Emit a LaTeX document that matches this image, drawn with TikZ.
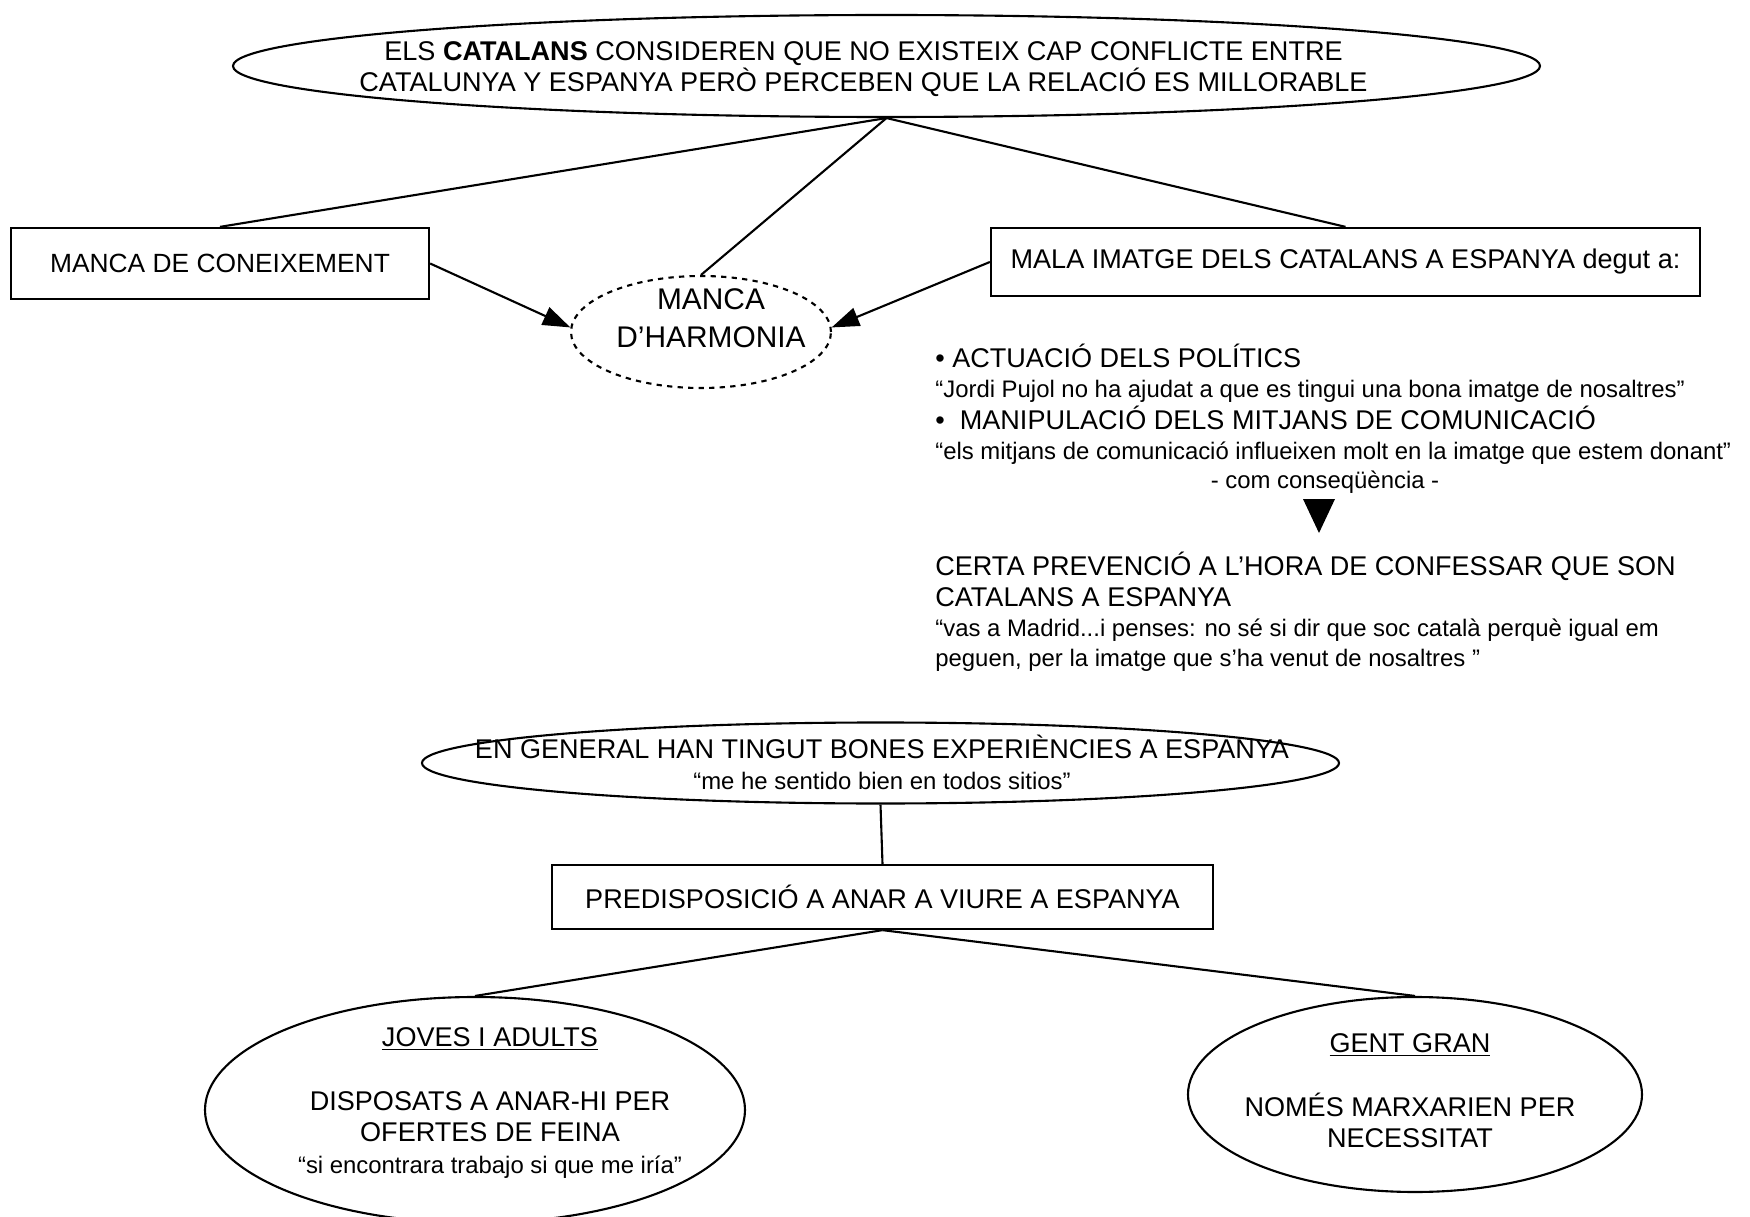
\documentclass[tikz,border=0pt]{standalone}
\usepackage{fontspec}
\setmainfont{Liberation Sans}
\usetikzlibrary{shapes.geometric,arrows.meta}

\tikzset{
  txt/.style={font=\fontsize{15.4}{17.8}\selectfont},
  qtxt/.style={font=\fontsize{13.6}{16}\selectfont},
  box/.style={draw, line width=1.3pt, inner sep=0pt, txt},
  oval/.style={draw, ellipse, line width=1.2pt, inner sep=0pt},
  ovaltext/.style={inner sep=0pt, align=center, txt},
  link/.style={line width=1.2pt},
  pointer/.style={line width=1.2pt, -{Triangle[length=0.55cm, width=0.38cm]}},
  textline/.style={anchor=base west, inner sep=0pt},
}
\newcommand{\qfont}{\fontsize{13.6}{16}\selectfont}

\begin{document}
\begin{tikzpicture}
        \useasboundingbox (0, 0) rectangle (35, -24.34);
        % top part
        \node [oval, minimum width=26.14cm, minimum height=2.04cm] (catalans) at (17.73, -1.32) {};
        \node [ovaltext] (catalanstext) at (17.27, -1.38)
            {ELS \textbf{CATALANS} CONSIDEREN QUE NO EXISTEIX CAP CONFLICTE ENTRE\\CATALUNYA Y ESPANYA PERÒ PERCEBEN QUE LA RELACIÓ ES MILLORABLE};
        \node [box, minimum width=8.36cm, minimum height=1.42cm, font=\fontsize{15}{18}\selectfont] (coneix) at (4.4, -5.27) {MANCA DE CONEIXEMENT};
        \node [oval, dashed, minimum width=5.2cm, minimum height=2.24cm] (harmonia) at (14.02, -6.64) {};
        \node [ovaltext, font=\fontsize{17}{21.6}\selectfont] (harmoniatext) at (14.22, -6.36) {MANCA\\D’HARMONIA};
        \node [box, minimum width=14.18cm, minimum height=1.36cm] (imatge) at (26.91, -5.24) {MALA IMATGE DELS CATALANS A ESPANYA degut a:};
        \draw [link] (catalans.south) -- (coneix.north);
        \draw [link] (catalans.south) -- (harmonia.north);
        \draw [link] (catalans.south) -- (imatge.north);
        \draw [pointer] (coneix.east) -- (harmonia.178);
        \draw [pointer] (imatge.west) -- (harmonia.2);
        % causes
        \node [textline, txt] (politics) at (18.7, -7.35) {• ACTUACIÓ DELS POLÍTICS};
        \node [textline, qtxt] (pujol) at (18.7, -7.94) {“Jordi Pujol no ha ajudat a que es tingui una bona imatge de nosaltres”};
        \node [textline, txt] (mitjans) at (18.7, -8.59) {•\ \ MANIPULACIÓ DELS MITJANS DE COMUNICACIÓ};
        \node [textline, qtxt] (influeixen) at (18.7, -9.18) {“els mitjans de comunicació influeixen molt en la imatge que estem donant”};
        \node [qtxt, anchor=base, inner sep=0pt] (conseq) at (26.5, -9.76) {- com conseqüència -};
        \fill (26.06, -9.98) -- (26.70, -9.98) -- (26.38, -10.66) -- cycle;
        \node [textline, txt] (prevencio) at (18.7, -11.51) {CERTA PREVENCIÓ A L’HORA DE CONFESSAR QUE SON};
        \node [textline, txt] (espanya) at (18.7, -12.13) {CATALANS A ESPANYA};
        \node [textline, qtxt] (madrid) at (18.7, -12.72) {“vas a Madrid...i penses: no sé si dir que soc català perquè igual em};
        \node [textline, qtxt] (peguen) at (18.7, -13.32) {peguen, per la imatge que s’ha venut de nosaltres ”};
        % bottom part
        \node [oval, minimum width=18.34cm, minimum height=1.62cm] (experiencies) at (17.61, -15.26) {};
        \node [ovaltext] (experienciestext) at (17.64, -15.25)
            {EN GENERAL HAN TINGUT BONES EXPERIÈNCIES A ESPANYA\\{\qfont “me he sentido bien en todos sitios”}};
        \node [box, minimum width=13.22cm, minimum height=1.28cm] (predisp) at (17.65, -17.94) {PREDISPOSICIÓ A ANAR A VIURE A ESPANYA};
        \node [oval, minimum width=10.8cm, minimum height=4.52cm] (joves) at (9.5, -22.2) {};
        \node [ovaltext] (jovestext) at (9.8, -22.06)
            {\underline{JOVES I ADULTS}\\[0.65cm]DISPOSATS A ANAR-HI PER\\OFERTES DE FEINA\\{\qfont “si encontrara trabajo si que me iría”}};
        \node [oval, minimum width=9.08cm, minimum height=3.9cm] (gent) at (28.3, -21.89) {};
        \node [ovaltext] (genttext) at (28.2, -21.82)
            {\underline{GENT GRAN}\\[0.65cm]NOMÉS MARXARIEN PER\\NECESSITAT};
        \draw [link] (experiencies.south) -- (predisp.north);
        \draw [link] (predisp.south) -- (joves.north);
        \draw [link] (predisp.south) -- (gent.north);
\end{tikzpicture}
\end{document}
